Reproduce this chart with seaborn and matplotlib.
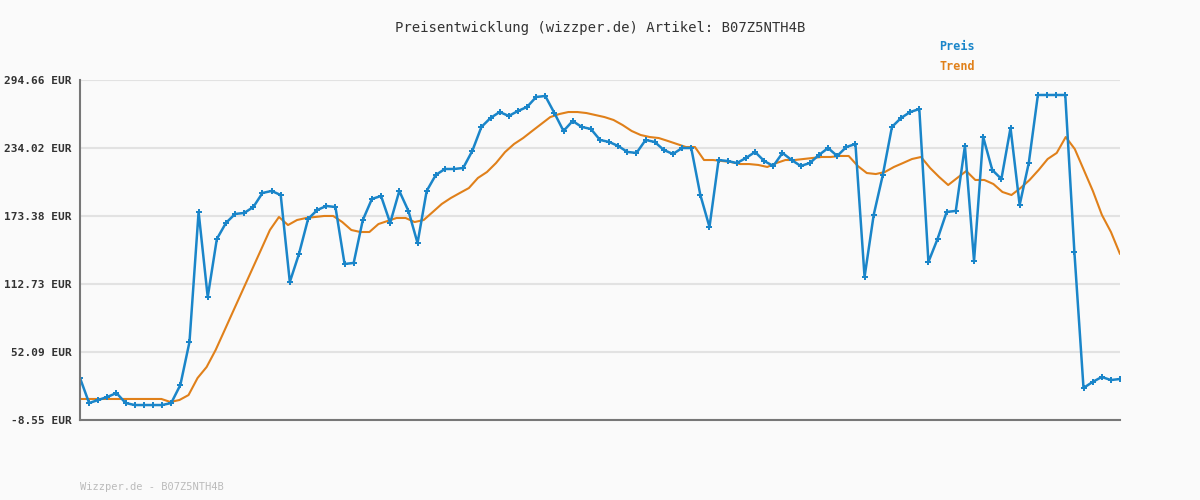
import numpy as np
import pandas as pd
import matplotlib
matplotlib.use("Agg")
import matplotlib.pyplot as plt
import seaborn as sns

preis = [28.9, 6.6, 9.3, 12.0, 15.5, 6.6, 4.8, 4.8, 4.8, 4.8, 6.6, 22.7, 61.0, 177.0, 101.1,
         152.9, 167.2, 175.2, 176.1, 181.4, 193.9, 195.7, 192.1, 114.5, 139.5, 170.7, 178.7,
         182.3, 181.4, 130.6, 131.5, 169.8, 188.6, 191.2, 167.2, 195.7, 177.9, 149.3, 195.7,
         210.0, 215.3, 215.3, 216.2, 231.4, 252.8, 260.8, 266.1, 262.6, 267.0, 270.6, 279.5,
         280.4, 265.2, 249.2, 258.1, 252.8, 251.0, 241.2, 239.4, 235.8, 230.5, 229.6, 241.2,
         239.4, 232.2, 228.7, 234.0, 234.0, 192.1, 163.6, 223.3, 222.4, 220.6, 225.1, 230.5,
         222.4, 218.0, 229.6, 223.3, 218.0, 220.6, 227.8, 234.0, 226.9, 234.9, 237.6, 119.0,
         174.3, 210.0, 252.8, 260.8, 266.1, 268.8, 132.4, 152.9, 177.0, 177.9, 235.8, 133.3,
         243.9, 214.4, 206.4, 251.9, 183.2, 220.6, 281.3, 281.3, 281.3, 281.3, 141.3, 20.0,
         25.4, 29.8, 27.1, 28.0]

trend = [10.2] * 10 + [7.5, 9.3, 13.7, 28.9, 38.7, 53.9, 71.7, 89.6, 107.4, 125.2, 143.0,
         160.9, 172.5, 165.3, 169.8, 171.6, 172.5, 173.4, 173.4, 168.0, 160.9, 159.1, 159.1,
         166.2, 168.9, 171.6, 171.6, 168.0, 169.8, 176.9, 184.1, 189.4, 193.9, 198.3, 207.3,
         212.6, 220.6, 230.4, 237.6, 242.9, 249.2, 255.4, 261.6, 264.3, 266.1, 266.1, 265.2,
         263.4, 261.6, 259.0, 254.5, 249.2, 245.6, 243.8, 242.9, 240.3, 237.6, 234.9, 234.9,
         223.3, 223.3, 222.4, 221.5, 219.7, 219.7, 218.9, 217.1, 220.6, 223.3, 223.3, 224.2,
         225.1, 226.0, 226.0, 226.9, 226.9, 218.0, 211.7, 210.8, 212.6, 217.1, 220.6, 224.2,
         226.0, 216.2, 208.2, 201.0, 207.3, 213.5, 205.5, 205.5, 201.9, 194.8, 192.1, 198.3,
         205.5, 214.4, 224.2, 229.6, 243.8, 233.1, 214.4, 195.7, 174.3, 159.1, 139.5]

y_ticks = [-8.55, 52.09, 112.73, 173.38, 234.02, 294.66]

blau = "#1a85c9"
orange = "#e0801a"

sns.set_style("white")
plt.rcParams["font.family"] = ["DejaVu Sans Mono"]

n = len(preis)
df_p = pd.DataFrame({"x": np.arange(n), "y": preis})
df_t = pd.DataFrame({"x": np.linspace(0, n - 1, len(trend)), "y": trend})

fig = plt.figure(figsize=(12, 5), dpi=100, facecolor="#fafafa")
ax = fig.add_axes([80 / 1200, 80 / 500, 1040 / 1200, 340 / 500])
ax.set_facecolor("#fafafa")

sns.lineplot(data=df_t, x="x", y="y", color=orange, linewidth=1.5, ax=ax)
sns.lineplot(data=df_p, x="x", y="y", color=blau, linewidth=1.8, marker="P",
             markersize=4, markeredgewidth=0, ax=ax)

ax.set_xlim(0, n - 1)
ax.set_ylim(y_ticks[0], y_ticks[-1])
ax.set_yticks(y_ticks)
ax.set_yticklabels([f"{v:.2f} EUR" for v in y_ticks], fontsize=8, fontweight="bold", color="#333333")
ax.set_xticks([])
ax.set_xlabel("")
ax.set_ylabel("")
ax.tick_params(axis="y", length=0, pad=6)
ax.grid(axis="y", color="#e2e2e2", linewidth=1.5)
for s in ["top", "right"]:
    ax.spines[s].set_visible(False)
for s in ["left", "bottom"]:
    ax.spines[s].set_color("#777777")
    ax.spines[s].set_linewidth(1.5)

fig.text(0.5, 1 - 28 / 500, "Preisentwicklung (wizzper.de) Artikel: B07Z5NTH4B",
         ha="center", va="center", fontsize=10, color="#333333")
fig.text(957 / 1200, 1 - 47 / 500, "Preis", ha="center", va="center",
         fontsize=8.5, fontweight="bold", color=blau)
fig.text(957 / 1200, 1 - 67 / 500, "Trend", ha="center", va="center",
         fontsize=8.5, fontweight="bold", color=orange)
fig.text(80 / 1200, 1 - 487 / 500, "Wizzper.de - B07Z5NTH4B", ha="left", va="center",
         fontsize=7.5, color="#bbbbbb")

fig.savefig("out.png", dpi=100, facecolor=fig.get_facecolor())
